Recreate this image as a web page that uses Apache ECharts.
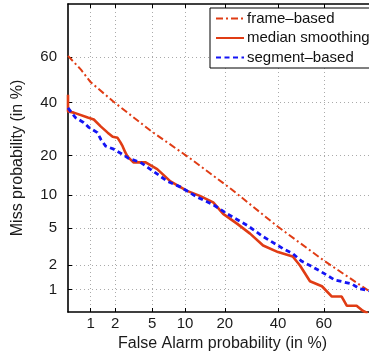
<!DOCTYPE html>
<html>
<head>
<meta charset="utf-8">
<script src="https://cdn.jsdelivr.net/npm/echarts@6/dist/echarts.min.js"></script>
<style>
  html, body { margin: 0; padding: 0; background: #fff; }
  #chart { width: 369px; height: 354px; }
</style>
</head>
<body>
<div id="chart"></div>
<script>
// tick labels (in %)
const tickValues = [1, 2, 5, 10, 20, 40, 60];

// frame-based (false alarm %, miss %)
const frameFA   = [0.5, 0.75, 1, 1.9, 4.8, 11, 22, 40, 60, 77, 80];
const frameMiss = [60.5, 54.5, 49, 40.5, 28.7, 19.2, 11.3, 5.15, 2.25, 0.98, 0.81];

// median smoothing
const medianFA   = [0.5, 0.5, 0.6, 0.92, 1.1, 1.35, 1.63, 1.87, 2.13, 2.3, 2.43, 2.6, 2.75, 3.2, 4.3, 5.6, 7.45, 10.4, 13.2, 16.6, 19.5, 24.1, 28.7, 33.8, 40, 46.4, 49.6, 54, 59.2, 63.4, 67.4, 69.4, 73.1, 75.3, 77];
const medianMiss = [43.4, 36.3, 35.8, 33.8, 33.0, 30.2, 27.9, 26.4, 26.0, 24.4, 23.1, 21.1, 19.8, 18, 18, 16.1, 13, 10.9, 9.9, 8.7, 6.85, 5.5, 4.4, 3.3, 2.8, 2.5, 1.97, 1.27, 1.1, 0.81, 0.81, 0.61, 0.61, 0.52, 0.48];

// segment-based
const segFA   = [0.5, 0.63, 0.81, 0.95, 1.22, 1.35, 1.54, 1.92, 2.43, 2.83, 3.8, 4.5, 5.15, 7.0, 9.2, 12.5, 16.6, 20.8, 27.7, 33.8, 40, 42.2, 46.4, 50.4, 54, 58.3, 64.6, 71.3, 74.3, 77, 80];
const segMiss = [37.8, 33.8, 31.8, 29.9, 27.9, 25.4, 23.1, 22.1, 20.4, 19.2, 18, 16.6, 15.5, 13, 11.7, 9.7, 8.3, 6.85, 5.3, 4.1, 3.3, 3.05, 2.7, 2.2, 1.97, 1.7, 1.32, 1.18, 1.02, 0.98, 0.89];

// inverse normal cdf (Acklam)
function probit(p) {
  const a = [-3.969683028665376e+01, 2.209460984245205e+02, -2.759285104469687e+02, 1.383577518672690e+02, -3.066479806614716e+01, 2.506628277459239e+00];
  const b = [-5.447609879822406e+01, 1.615858368580409e+02, -1.556989798598866e+02, 6.680131188771972e+01, -1.328068155288572e+01];
  const c = [-7.784894002430293e-03, -3.223964580411365e-01, -2.400758277161838e+00, -2.549732539343734e+00, 4.374664141464968e+00, 2.938163982698783e+00];
  const d = [7.784695709041462e-03, 3.224671290700398e-01, 2.445134137142996e+00, 3.754408661907416e+00];
  const plow = 0.02425;
  let q, r;
  if (p < plow) {
    q = Math.sqrt(-2 * Math.log(p));
    return (((((c[0]*q+c[1])*q+c[2])*q+c[3])*q+c[4])*q+c[5]) / ((((d[0]*q+d[1])*q+d[2])*q+d[3])*q+1);
  } else if (p <= 1 - plow) {
    q = p - 0.5; r = q * q;
    return (((((a[0]*r+a[1])*r+a[2])*r+a[3])*r+a[4])*r+a[5])*q / (((((b[0]*r+b[1])*r+b[2])*r+b[3])*r+b[4])*r+1);
  }
  q = Math.sqrt(-2 * Math.log(1 - p));
  return -(((((c[0]*q+c[1])*q+c[2])*q+c[3])*q+c[4])*q+c[5]) / ((((d[0]*q+d[1])*q+d[2])*q+d[3])*q+1);
}

const pts = (xs, ys) => xs.map((v, i) => [probit(v / 100), probit(ys[i] / 100)]);
const tickPos = tickValues.map(v => probit(v / 100));
const labelOf = val => {
  let best = tickValues[0];
  tickValues.forEach(t => { if (Math.abs(probit(t / 100) - val) < Math.abs(probit(best / 100) - val)) best = t; });
  return String(best);
};

const lo = probit(0.005), hi = probit(0.8);
const font = 'Liberation Sans, Arial, sans-serif';
const red = '#e03c14', blue = '#1414f5';

function axis(pos, main, margin) {
  return {
    type: 'value', position: pos, min: lo, max: hi,
    axisLine: { show: true, onZero: false, lineStyle: { color: '#000', width: 1.6 } },
    axisTick: { show: true, inside: true, length: 4, customValues: tickPos, lineStyle: { color: '#000' } },
    axisLabel: { show: main, customValues: tickPos, formatter: labelOf, color: '#1a1a1a', fontSize: 15, fontFamily: font, margin: margin || 9 },
    splitLine: { show: main, lineStyle: { color: '#aaa', type: [1, 3], width: 1 } }
  };
}

const chart = echarts.init(document.getElementById('chart'));
chart.setOption({
  animation: false,
  backgroundColor: '#fff',
  grid: { left: 68, top: 4, width: 309, height: 308, containLabel: false, outerBoundsMode: 'none' },
  xAxis: [
    Object.assign(axis('bottom', true, 4), { name: 'False Alarm probability (in %)', nameLocation: 'middle', nameGap: 21, nameTextStyle: { fontSize: 16, color: '#1a1a1a', fontFamily: font } }),
    axis('top', false)
  ],
  yAxis: [
    Object.assign(axis('left', true, 11), { name: 'Miss probability (in %)', nameLocation: 'middle', nameGap: 42, nameTextStyle: { fontSize: 16, color: '#1a1a1a', fontFamily: font } }),
    axis('right', false)
  ],
  legend: {
    orient: 'vertical', left: 210, top: 8,
    backgroundColor: '#fff', borderColor: '#000', borderWidth: 1,
    padding: [3, 5, 3, 5], itemWidth: 28, itemHeight: 14, itemGap: 4.5,
    itemStyle: { opacity: 0 },
    textStyle: { fontSize: 15, color: '#111', fontFamily: font, padding: [0, 0, 0, -2] },
    data: ['frame\u2013based', 'median smoothing', 'segment\u2013based']
  },
  series: [
    { name: 'frame\u2013based', type: 'line', data: pts(frameFA, frameMiss), symbol: 'none', z: 3,
      lineStyle: { color: red, width: 2, type: [7, 3, 2, 3] }, itemStyle: { color: red } },
    { name: 'median smoothing', type: 'line', data: pts(medianFA, medianMiss), symbol: 'none', z: 4,
      lineStyle: { color: red, width: 2.6 }, itemStyle: { color: red } },
    { name: 'segment\u2013based', type: 'line', data: pts(segFA, segMiss), symbol: 'none', z: 5,
      lineStyle: { color: blue, width: 2.8, type: [5, 3.5] }, itemStyle: { color: blue } }
  ]
});
</script>
</body>
</html>
